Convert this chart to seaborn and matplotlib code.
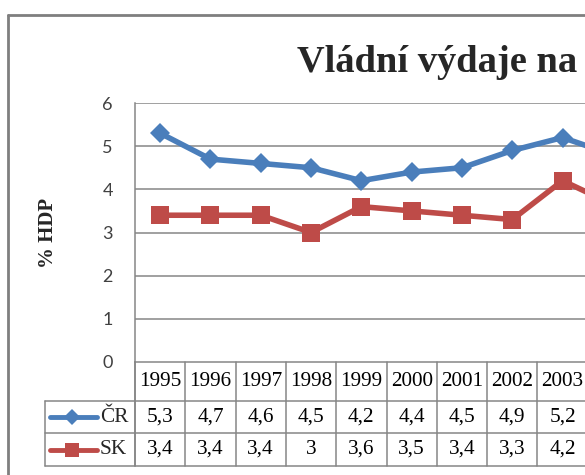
import matplotlib
matplotlib.use("Agg")
import matplotlib.pyplot as plt
import matplotlib.transforms as mtransforms
from matplotlib.lines import Line2D
import seaborn as sns
import pandas as pd

years = ["1995", "1996", "1997", "1998", "1999", "2000", "2001", "2002", "2003", "2004"]
cr_values = [5.3, 4.7, 4.6, 4.5, 4.2, 4.4, 4.5, 4.9, 5.2, 4.8]
sk_values = [3.4, 3.4, 3.4, 3.0, 3.6, 3.5, 3.4, 3.3, 4.2, 3.65]
cr_labels = ["5,3", "4,7", "4,6", "4,5", "4,2", "4,4", "4,5", "4,9", "5,2"]
sk_labels = ["3,4", "3,4", "3,4", "3", "3,6", "3,5", "3,4", "3,3", "4,2"]
series_names = ["ČR", "SK"]
y_ticks = [0, 1, 2, 3, 4, 5, 6]
title = "Vládní výdaje na"
y_label = "% HDP"

BLUE = "#4A7EBB"
RED = "#BE4B48"
GRID = "#868686"

sns.set_theme(style="white")
W, H = 585, 475
fig = plt.figure(figsize=(W / 100, H / 100), dpi=100)
fig.patch.set_facecolor("white")

def fx(px):
    return px / W

def fy(py):
    return 1 - py / H

left_px, top_px, zero_px = 135, 103, 362
cat_w = 50.3
n = len(years)
ax = fig.add_axes([fx(left_px), fy(zero_px), (cat_w * n) / W, (zero_px - top_px) / H])
ax.set_facecolor("white")

df = pd.DataFrame({
    "x": list(range(n)) * 2,
    "value": cr_values + sk_values,
    "country": [series_names[0]] * n + [series_names[1]] * n,
})
sns.lineplot(data=df, x="x", y="value", hue="country", style="country",
             markers={"ČR": "D", "SK": "s"}, dashes=False,
             palette={"ČR": BLUE, "SK": RED}, linewidth=4.0,
             markersize=11, markeredgewidth=0, ax=ax, legend=False)
for ln in ax.lines:
    if ln.get_marker() == "D":
        ln.set_markersize(10)
    elif ln.get_marker() == "s":
        ln.set_markersize(13)

ax.set_xlim(-0.5, n - 0.5)
ax.set_ylim(0, 6)
ax.set_xticks([])
ax.set_yticks(y_ticks)
ax.set_yticklabels([str(t) for t in y_ticks], fontsize=13, color="#404040",
                   family=["Lato", "DejaVu Sans"])
ax.tick_params(axis="y", length=0, pad=16)
ax.set_xlabel("")
ax.set_ylabel("")
for t in y_ticks[1:]:
    ax.axhline(t, color=GRID, lw=1.1, zorder=0)
for s in ["top", "right"]:
    ax.spines[s].set_visible(False)
ax.spines["left"].set_color(GRID)
ax.spines["bottom"].set_color(GRID)
ax.spines["left"].set_linewidth(1.1)
ax.spines["bottom"].set_linewidth(1.1)

# data table
def ay(py):
    return (zero_px - py) / (zero_px - top_px)

blend = mtransforms.blended_transform_factory(ax.transData, ax.transAxes)
row_year, row_cr, row_sk, row_end = 401, 433, 466, 466
for k in range(n + 1):
    ax.plot([k - 0.5, k - 0.5], [ay(zero_px), ay(row_end)], transform=blend,
            color=GRID, lw=1.1, clip_on=False)
for py in [row_year, row_cr, row_sk]:
    fig.add_artist(Line2D([fx(45), 1], [fy(py), fy(py)], color=GRID, lw=1.1))
fig.add_artist(Line2D([fx(45), fx(45)], [fy(row_year), fy(row_end)], color=GRID, lw=1.1))
fig.add_artist(Line2D([fx(left_px), fx(left_px)], [fy(zero_px), fy(row_end)], color=GRID, lw=1.1))

serif = ["Liberation Serif", "DejaVu Serif"]
for i in range(len(cr_labels)):
    ax.text(i, ay(382), years[i], transform=blend, ha="center", va="center",
            fontsize=15.3, family=serif, color="black", clip_on=False)
    ax.text(i, ay(417), cr_labels[i], transform=blend, ha="center", va="center",
            fontsize=15.3, family=serif, color="black", clip_on=False)
    ax.text(i, ay(449.5), sk_labels[i], transform=blend, ha="center", va="center",
            fontsize=15.3, family=serif, color="black", clip_on=False)

# legend keys in table
fig.add_artist(Line2D([fx(50), fx(97)], [fy(417), fy(417)], color=BLUE, lw=3.5))
fig.add_artist(Line2D([fx(72)], [fy(417)], color=BLUE, marker="D", ms=8, mew=0, lw=0))
fig.add_artist(Line2D([fx(50), fx(97)], [fy(449.5), fy(449.5)], color=RED, lw=3.5))
fig.add_artist(Line2D([fx(72)], [fy(449.5)], color=RED, marker="s", ms=10, mew=0, lw=0))
fig.text(fx(100), fy(417), series_names[0], ha="left", va="center", fontsize=15.3, family=serif)
fig.text(fx(100), fy(449.5), series_names[1], ha="left", va="center", fontsize=15.3, family=serif)

# y label and title
fig.text(fx(48), fy(233), y_label, rotation=90, ha="center", va="center",
         fontsize=15, family=serif, weight="bold")
fig.text(fx(297), fy(72), title, ha="left", va="baseline", fontsize=27.7,
         family=serif, weight="bold")

# outer frame
fig.add_artist(Line2D([fx(8), fx(8)], [fy(15), 0], color="#7F7F7F", lw=2))
fig.add_artist(Line2D([fx(8), 1], [fy(15), fy(15)], color="#7F7F7F", lw=2))

fig.savefig("out.png", dpi=100)
